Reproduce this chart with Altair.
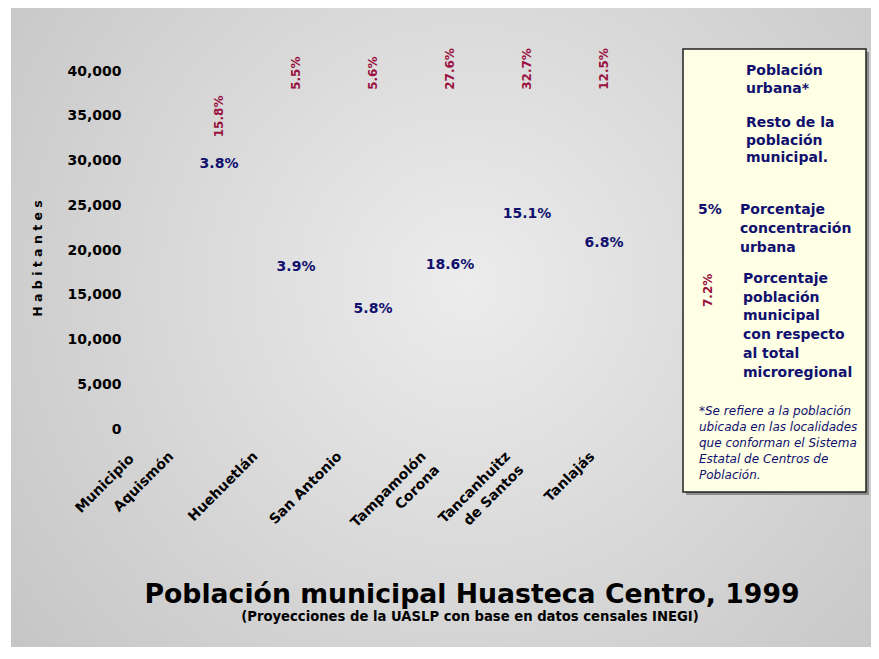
import altair as alt
import pandas as pd

# ---- data ----
municipios = ["Aquismón", "Huehuetlán", "San Antonio", "Tampamolón\nCorona",
              "Tancanhuitz\nde Santos", "Tanlajás"]
# height (habitantes) at which the urban-concentration label sits
altura_concentracion = [29600, 18150, 13400, 18320, 23980, 20780]
concentracion_urbana = [3.8, 3.9, 5.8, 18.6, 15.1, 6.8]
# height (habitantes) at which the microregional-share label starts
altura_porcentaje = [32600, 37900, 37900, 37900, 37900, 37900]
porcentaje_microregional = [15.8, 5.5, 5.6, 27.6, 32.7, 12.5]
y_ticks = [0, 5000, 10000, 15000, 20000, 25000, 30000, 35000, 40000]

df = pd.DataFrame({
    "municipio": municipios,
    "alt_c": altura_concentracion,
    "conc": concentracion_urbana,
    "alt_p": altura_porcentaje,
    "pct": porcentaje_microregional,
})

NAVY = "#10106e"
RED = "#99123f"
FONT = "DejaVu Sans"

# columns of the value labels
data_scale = alt.Scale(type="point", range=[89, 474], padding=0)
# category labels along the bottom (slightly wider spread, as in the reference)
label_scale = alt.Scale(type="point", range=[36, 457], padding=0)

x_axis = alt.Axis(title=None, orient="bottom", labelAngle=-45, labelAlign="right",
                  labelBaseline="top", labelExpr="split(datum.label, '\\n')",
                  labelLineHeight=19, labelFont=FONT, labelFontSize=14,
                  labelFontWeight="bold", labelColor="black", labelPadding=20,
                  domain=False, ticks=False, tickSize=0, grid=False, zindex=2)
y_scale = alt.Scale(domain=[0, 40000], nice=False, zero=True)
y_axis = alt.Axis(values=y_ticks, format=",d", title="H a b i t a n t e s",
                  titleX=-93, titleY=187, titleAngle=270, titleAlign="center",
                  titleBaseline="middle", titleFont=FONT, titleFontSize=12.5,
                  titleFontWeight="bold", titleColor="black",
                  labelFont=FONT, labelFontSize=14, labelFontWeight="bold",
                  labelColor="black", labelPadding=9, domain=False, ticks=False,
                  tickSize=0, grid=False, zindex=2)

one = alt.Data(values=[{}])

bg = alt.Chart(one).mark_rect(fill={
    "gradient": "radial",
    "stops": [{"offset": 0, "color": "#ececec"}, {"offset": 1, "color": "#c3c3c3"}],
    "x1": 0.53, "y1": 0.45, "r1": 0, "x2": 0.53, "y2": 0.45, "r2": 0.72,
}).encode(x=alt.value(-119), x2=alt.value(741), y=alt.value(-63), y2=alt.value(576))

shadow = alt.Chart(one).mark_rect(fill="#8c8c8c").encode(
    x=alt.value(556), x2=alt.value(739), y=alt.value(-19), y2=alt.value(424))
box = alt.Chart(one).mark_rect(fill="#ffffe6", stroke="#222222", strokeWidth=1.5).encode(
    x=alt.value(553), x2=alt.value(736), y=alt.value(-22), y2=alt.value(421))

base = alt.Chart(df)

axis_layer = base.mark_point(opacity=0).encode(
    x=alt.X("municipio:N", sort=municipios, scale=label_scale, axis=x_axis),
)

blue = base.mark_text(font=FONT, fontSize=14, fontWeight="bold", color=NAVY,
                      align="center", baseline="middle").encode(
    x=alt.X("municipio:N", sort=municipios, scale=data_scale, axis=None),
    y=alt.Y("alt_c:Q", scale=y_scale, axis=y_axis),
    text="conc_lbl:N",
).transform_calculate(conc_lbl="format(datum.conc, '.1f') + '%'")

red = base.mark_text(font=FONT, fontSize=12, fontWeight="bold", color=RED,
                     angle=270, align="left", baseline="middle").encode(
    x=alt.X("municipio:N", sort=municipios, scale=data_scale, axis=None),
    y=alt.Y("alt_p:Q"),
    text="pct_lbl:N",
).transform_calculate(pct_lbl="format(datum.pct, '.1f') + '%'")


def txt(lines, x, y, size=14, color=NAVY, weight="bold", style="normal",
        lh=18, align="left", baseline="alphabetic", angle=0):
    return alt.Chart(one).mark_text(
        font=FONT, fontSize=size, fontWeight=weight, fontStyle=style, color=color,
        align=align, baseline=baseline, lineHeight=lh, angle=angle,
    ).encode(x=alt.value(x), y=alt.value(y), text=alt.value(lines))


municipio_lbl = txt("Municipio", -3, 381, color="black", baseline="top", align="right",
                    angle=315)

leg = [
    txt(["Población", "urbana*"], 616, 4, lh=18),
    txt(["Resto de la", "población", "municipal."], 616, 56, lh=17.7),
    txt("5%", 568, 143),
    txt(["Porcentaje", "concentración", "urbana"], 610, 143, lh=19),
    txt("7.2%", 578, 236, size=12, color=RED, angle=270, baseline="middle"),
    txt(["Porcentaje", "población", "municipal", "con respecto", "al total",
         "microregional"], 613, 212, lh=18.7),
    txt(["*Se refiere a la población", "ubicada en las localidades",
         "que conforman el Sistema", "Estatal de Centros de", "Población."],
        569, 344, size=12, weight="normal", style="italic", lh=16),
]

title = txt("Población municipal Huasteca Centro, 1999", 342, 532, size=26.7,
            color="black", align="center")
subtitle = txt("(Proyecciones de la UASLP con base en datos censales INEGI)", 340, 550,
               size=13.2, color="black", align="center")

chart = alt.layer(
    bg, shadow, box, axis_layer, blue, red, municipio_lbl, *leg, title, subtitle
).resolve_scale(x="independent").properties(
    width=563, height=358,
    autosize=alt.AutoSizeParams(type="none"),
    padding={"left": 122, "top": 63, "right": 178, "bottom": 218},
).configure_view(stroke=None, fill=None)

chart.save("out.html", embed_options={"renderer": "svg", "actions": False})
